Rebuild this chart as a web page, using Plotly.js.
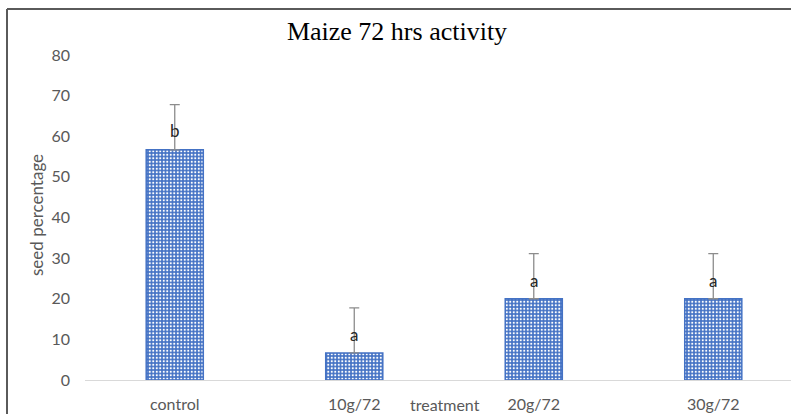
<!DOCTYPE html>
<html>
<head>
<meta charset="utf-8">
<script src="https://cdn.plot.ly/plotly-3.0.1.min.js"></script>
<style>html,body{margin:0;padding:0;background:#fff;}#chart{width:791px;height:414px;}</style>
</head>
<body>
<div id="chart"></div>
<script>
const categories = ["control", "10g/72", "20g/72", "30g/72"];
const values = [56.67, 6.67, 20, 20];
const errors = [11.1, 11.1, 11.1, 11.1];
const letters = ["b", "a", "a", "a"];
const letterY = [61.3, 11.2, 24.6, 24.6];
const yTicks = [0, 10, 20, 30, 40, 50, 60, 70, 80];

const trace = {
  type: "bar",
  x: categories,
  y: values,
  width: 0.318,
  marker: {
    color: "#4472c4",
    line: {color: "#4472c4", width: 1.5},
    pattern: {shape: ".", fgcolor: "#ffffff", bgcolor: "#4472c4", size: 3.5, solidity: 0.3}
  },
  error_y: {type: "data", array: errors, symmetric: false, arrayminus: [0,0,0,0], color: "#8c8c8c", thickness: 1.3, width: 5},
  hoverinfo: "skip"
};

const annotations = categories.map((c, i) => ({
  x: c, y: letterY[i], xref: "x", yref: "y", text: letters[i], showarrow: false,
  xanchor: "center", yanchor: "middle",
  font: {family: "Lato, sans-serif", size: 17, color: "#262626"}
}));
annotations.push({
  x: (445 - 85) / 706, y: (380 - 404) / 325, xref: "paper", yref: "paper", text: "treatment",
  xanchor: "center", yanchor: "middle",
  showarrow: false, font: {family: "Lato, sans-serif", size: 16, color: "#595959"}
});
annotations.push({
  x: (36 - 85) / 706, y: (380 - 215) / 325, xref: "paper", yref: "paper", text: "seed percentage",
  xanchor: "center", yanchor: "middle",
  textangle: -90, showarrow: false, font: {family: "Lato, sans-serif", size: 17, color: "#595959"}
});

const layout = {
  width: 791, height: 414,
  margin: {l: 85, r: 0, t: 55, b: 34},
  paper_bgcolor: "#ffffff", plot_bgcolor: "#ffffff",
  title: {text: "Maize 72 hrs activity", x: 397 / 791, xanchor: "center", y: 1 - 31 / 414, yanchor: "middle",
          font: {family: "Liberation Serif, Times New Roman, serif", size: 26, color: "#000000"}},
  showlegend: false,
  xaxis: {
    type: "category", range: [-0.5, 3.433], showgrid: false, zeroline: false,
    showline: true, linecolor: "#d9d9d9", linewidth: 1, ticks: "",
    tickfont: {family: "Lato, sans-serif", size: 16, color: "#595959"}, ticklabelstandoff: 10
  },
  yaxis: {
    range: [0, 80], tickvals: yTicks, showgrid: false, zeroline: false, showline: false, ticks: "",
    tickfont: {family: "Lato, sans-serif", size: 16, color: "#595959"}, ticklabelstandoff: 14
  },
  annotations: annotations,
  shapes: [
    {type: "line", xref: "paper", yref: "paper", x0: (7 - 85) / 706, x1: 1.01, y0: (380 - 9) / 325, y1: (380 - 9) / 325,
     line: {color: "#5a5a5a", width: 2}},
    {type: "line", xref: "paper", yref: "paper", x0: (7 - 85) / 706, x1: (7 - 85) / 706, y0: (380 - 9) / 325, y1: -0.2,
     line: {color: "#5a5a5a", width: 2}}
  ]
};

Plotly.newPlot("chart", [trace], layout, {staticPlot: true, displayModeBar: false});
</script>
</body>
</html>
